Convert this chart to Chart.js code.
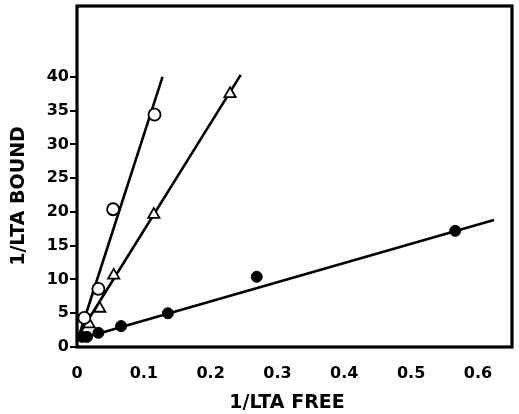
<!DOCTYPE html>
<html>
<head>
<meta charset="utf-8">
<script src="https://cdn.jsdelivr.net/npm/chart.js@4.4.1/dist/chart.umd.min.js"></script>
<style>
  html, body { margin: 0; padding: 0; background: #fff; }
  #wrap { width: 519px; height: 414px; }
</style>
</head>
<body>
<div id="wrap"><canvas id="lta" width="519" height="414"></canvas></div>
<script>
// measured points (1/free, 1/bound)
const openX = [0.011, 0.032, 0.054, 0.116];
const openY = [4.3, 8.6, 20.4, 34.4];
const triX = [0.018, 0.034, 0.055, 0.115, 0.229];
const triY = [3.4, 5.7, 10.6, 19.6, 37.5];
const fillX = [0.008, 0.015, 0.032, 0.066, 0.136, 0.269, 0.566];
const fillY = [1.5, 1.5, 2.1, 3.1, 5.0, 10.4, 17.2];

// fitted lines, end points
const openFitX = [0.004, 0.128];
const openFitY = [2.0, 40.0];
const triFitX = [0.004, 0.245];
const triFitY = [2.0, 40.3];
const fillFitX = [0.004, 0.624];
const fillFitY = [1.2, 18.8];

const xTicks = [0, 0.1, 0.2, 0.3, 0.4, 0.5, 0.6];
const yTicks = [0, 5, 10, 15, 20, 25, 30, 35, 40];

const pts = (xs, ys) => xs.map((x, i) => ({ x: x, y: ys[i] }));
const FONT = 'DejaVu Sans';

function fitLine(xs, ys) {
    return {
        data: pts(xs, ys), showLine: true, pointRadius: 0,
        borderColor: '#000', borderWidth: 2.6, order: 2
    };
}

// frame around the plot and the two axis titles
const frame = {
    id: 'frame',
    afterDraw(chart) {
        const { ctx, chartArea: a } = chart;
        ctx.save();
        ctx.strokeStyle = '#000';
        ctx.lineWidth = 3.2;
        ctx.strokeRect(a.left, a.top, a.right - a.left, a.bottom - a.top);
        ctx.fillStyle = '#000';
        ctx.font = 'bold 19px ' + FONT;
        ctx.textAlign = 'center';
        ctx.textBaseline = 'middle';
        ctx.fillText('1/LTA FREE', 287, 403);
        ctx.translate(19, 196);
        ctx.rotate(-Math.PI / 2);
        ctx.fillText('1/LTA BOUND', 0, 0);
        ctx.restore();
    }
};

new Chart(document.getElementById('lta'), {
    type: 'scatter',
    data: {
        datasets: [
            fitLine(openFitX, openFitY),
            fitLine(triFitX, triFitY),
            fitLine(fillFitX, fillFitY),
            {
                data: pts(openX, openY), pointStyle: 'circle', pointRadius: 6,
                backgroundColor: '#fff', borderColor: '#000', borderWidth: 1.8, order: 1
            },
            {
                data: pts(triX, triY), pointStyle: 'triangle', pointRadius: 6.5,
                backgroundColor: '#fff', borderColor: '#000', borderWidth: 1.8, order: 1
            },
            {
                data: pts(fillX, fillY), pointStyle: 'circle', pointRadius: 5.5,
                backgroundColor: '#000', borderColor: '#000', borderWidth: 1, order: 1
            }
        ]
    },
    options: {
        responsive: false,
        animation: false,
        layout: { autoPadding: false, padding: { top: 6, right: 7, left: 0, bottom: 0 } },
        plugins: { legend: { display: false }, tooltip: { enabled: false } },
        scales: {
            x: {
                type: 'linear', min: 0, max: 0.651,
                afterBuildTicks: s => { s.ticks = xTicks.map(v => ({ value: v })); },
                afterFit: s => { s.height = 67; s.paddingLeft = 0; s.paddingRight = 0; },
                grid: { display: false },
                border: { display: false },
                ticks: {
                    color: '#000', padding: 9,
                    font: { family: FONT, weight: 'bold', size: 16 },
                    callback: v => v === 0 ? '0' : v.toFixed(1)
                }
            },
            y: {
                type: 'linear', min: 0, max: 50.5,
                afterBuildTicks: s => { s.ticks = yTicks.map(v => ({ value: v })); },
                afterFit: s => { s.width = 77; s.paddingTop = 0; s.paddingBottom = 0; },
                grid: {
                    drawOnChartArea: false, drawTicks: true, tickLength: 7,
                    color: '#000', lineWidth: 2
                },
                border: { display: false },
                ticks: {
                    color: '#000', padding: 1,
                    font: { family: FONT, weight: 'bold', size: 16 }
                }
            }
        }
    },
    plugins: [frame]
});
</script>
</body>
</html>
